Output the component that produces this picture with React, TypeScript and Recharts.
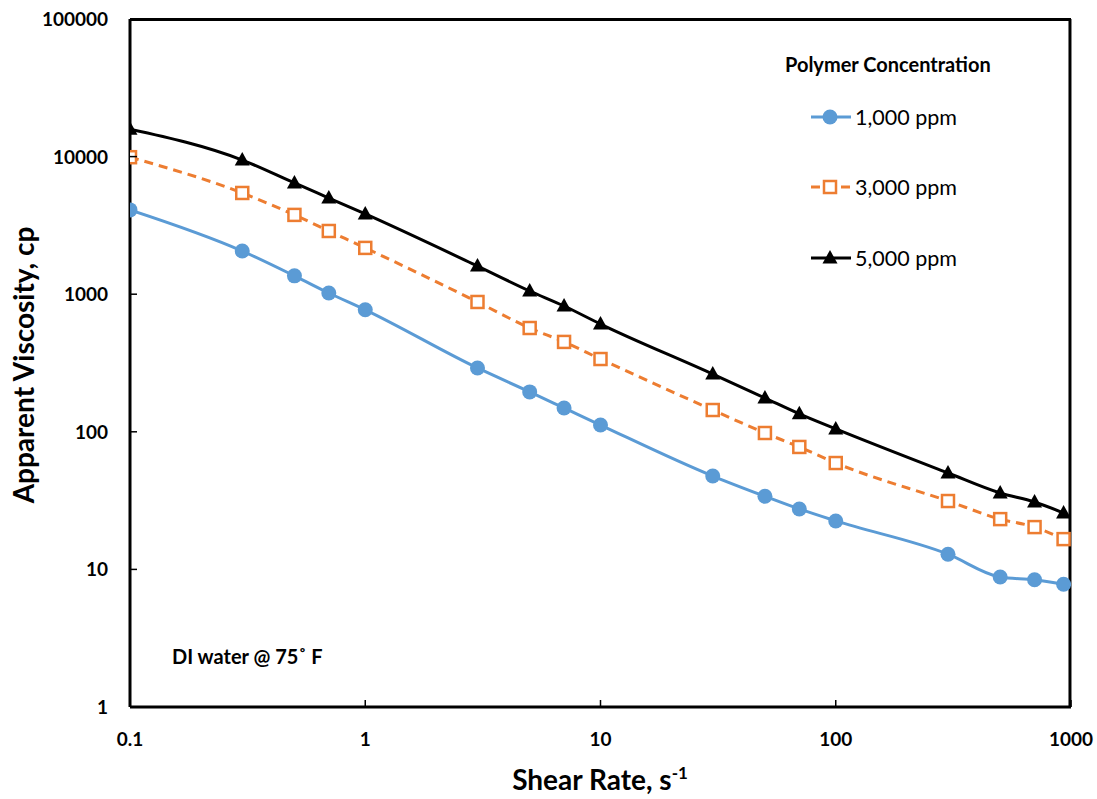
import { LineChart, Line, XAxis, YAxis, ReferenceLine } from 'recharts'

const shearRates = [0.1, 0.3, 0.5, 0.7, 1, 3, 5, 7, 10, 30, 50, 70, 100, 300, 500, 700, 930]
const visc1000 = [4100, 2060, 1360, 1020, 770, 291, 195, 149, 112, 47.7, 34, 27.5, 22.5, 12.9, 8.8, 8.4, 7.8]
const visc3000 = [9900, 5440, 3770, 2880, 2170, 878, 568, 450, 338, 144, 98, 77.6, 59.3, 31.4, 23.2, 20.3, 16.6]
const visc5000 = [15800, 9440, 6430, 5000, 3830, 1600, 1055, 821, 607, 263, 176, 135, 105, 50.2, 35.9, 30.9, 25.7]

const xTicks = [0.1, 1, 10, 100, 1000]
const yTicks = [1, 10, 100, 1000, 10000, 100000]

const seriesNames = ['1,000 ppm', '3,000 ppm', '5,000 ppm']

const data = shearRates.map((rate, i) => ({
  rate,
  p1000: visc1000[i],
  p3000: visc3000[i],
  p5000: visc5000[i],
}))

const BLUE = '#5B9BD5'
const ORANGE = '#ED7D31'
const FONT = 'Lato, "Liberation Sans", sans-serif'
const FRAME = { stroke: '#000', strokeWidth: 3 }

const CircleDot = (props: any) => {
  const { cx, cy } = props
  if (cx == null || cy == null) return null
  return <circle cx={cx} cy={cy} r={7.5} fill={BLUE} />
}

const SquareDot = (props: any) => {
  const { cx, cy } = props
  if (cx == null || cy == null) return null
  return <rect x={cx - 6} y={cy - 6} width={12} height={12} fill='#fff' stroke={ORANGE} strokeWidth={2.5} />
}

const TriangleDot = (props: any) => {
  const { cx, cy } = props
  if (cx == null || cy == null) return null
  return <polygon points={`${cx},${cy - 8} ${cx - 7.5},${cy + 5.5} ${cx + 7.5},${cy + 5.5}`} fill='#000' />
}

// ticks point inward, like the original
const XTick = (props: any) => {
  const { x, y, payload } = props
  return (
    <g>
      <line x1={x} x2={x} y1={y} y2={y - 7} stroke='#000' strokeWidth={1.5} />
      <text x={x} y={y + 39} textAnchor='middle' fontFamily={FONT} fontWeight={700} fontSize={19} fill='#000'>
        {payload.value}
      </text>
    </g>
  )
}

const YTick = (props: any) => {
  const { x, y, payload } = props
  const axisX = x + 22
  return (
    <g>
      <line x1={axisX} x2={axisX + 7} y1={y} y2={y} stroke='#000' strokeWidth={1.5} />
      <text x={x} y={y + 7} textAnchor='end' fontFamily={FONT} fontWeight={700} fontSize={19} fill='#000'>
        {payload.value}
      </text>
    </g>
  )
}

const Overlay = () => {
  const rows = [117, 187, 258]
  return (
    <svg width={1097} height={799} style={{ position: 'absolute', left: 0, top: 0, pointerEvents: 'none' }}>
      {/* legend */}
      <text x={785} y={72} fontFamily={FONT} fontWeight={700} fontSize={20} fill='#000'>
        Polymer Concentration
      </text>
      <line x1={811} x2={851} y1={rows[0]} y2={rows[0]} stroke={BLUE} strokeWidth={3} />
      <circle cx={830} cy={rows[0]} r={7.5} fill={BLUE} />
      <line x1={811} x2={851} y1={rows[1]} y2={rows[1]} stroke={ORANGE} strokeWidth={3} strokeDasharray='9 6' />
      <rect x={824} y={rows[1] - 6} width={12} height={12} fill='#fff' stroke={ORANGE} strokeWidth={2.5} />
      <line x1={811} x2={851} y1={rows[2]} y2={rows[2]} stroke='#000' strokeWidth={3} />
      <polygon points={`830,${rows[2] - 8} 822.5,${rows[2] + 5.5} 837.5,${rows[2] + 5.5}`} fill='#000' />
      {seriesNames.map((name, i) => (
        <text key={name} x={855} y={rows[i] + 8} fontFamily={FONT} fontSize={21.5} fill='#000'>
          {name}
        </text>
      ))}

      {/* axis titles */}
      <text x={34} y={365} transform='rotate(-90, 34, 365)' textAnchor='middle' fontFamily={FONT} fontWeight={700} fontSize={28} fill='#000'>
        Apparent Viscosity, cp
      </text>
      <text x={600} y={790} textAnchor='middle' fontFamily={FONT} fontWeight={700} fontSize={28} fill='#000'>
        Shear Rate, s
        <tspan fontSize={17} dy={-11}>-1</tspan>
      </text>

      {/* note */}
      <text x={172} y={664} fontFamily={FONT} fontWeight={700} fontSize={20} fill='#000'>
        DI water @ 75˚ F
      </text>
    </svg>
  )
}

export default function App() {
  return (
    <div style={{ position: 'absolute', left: 0, top: 0, width: 1097, height: 799, background: '#fff' }}>
      <LineChart width={1097} height={799} data={data} margin={{ top: 19, right: 26, bottom: 42, left: 0 }}>
        <XAxis
          dataKey='rate'
          type='number'
          scale='log'
          domain={[0.1, 1000]}
          ticks={xTicks}
          allowDataOverflow
          height={50}
          tickSize={0}
          tickMargin={0}
          tick={<XTick />}
          axisLine={FRAME}
          interval={0}
        />
        <YAxis
          type='number'
          scale='log'
          domain={[1, 100000]}
          ticks={yTicks}
          allowDataOverflow
          width={130}
          tickSize={0}
          tickMargin={22}
          tick={<YTick />}
          axisLine={FRAME}
          interval={0}
        />
        {/* top and right sides of the plot box */}
        <ReferenceLine
          segment={[{ x: 0.1, y: 99000 }, { x: 1000, y: 99000 }]}
          stroke='#000'
          strokeWidth={3}
          ifOverflow='visible'
        />
        <ReferenceLine
          segment={[{ x: 990, y: 1 }, { x: 990, y: 100000 }]}
          stroke='#000'
          strokeWidth={3}
          ifOverflow='visible'
        />
        <Line name={seriesNames[0]} dataKey='p1000' type='monotone' stroke={BLUE} strokeWidth={3} dot={<CircleDot />} activeDot={false} isAnimationActive={false} />
        <Line name={seriesNames[1]} dataKey='p3000' type='monotone' stroke={ORANGE} strokeWidth={3} strokeDasharray='9 6' dot={<SquareDot />} activeDot={false} isAnimationActive={false} />
        <Line name={seriesNames[2]} dataKey='p5000' type='monotone' stroke='#000' strokeWidth={3} dot={<TriangleDot />} activeDot={false} isAnimationActive={false} />
      </LineChart>

      <Overlay />
    </div>
  )
}
